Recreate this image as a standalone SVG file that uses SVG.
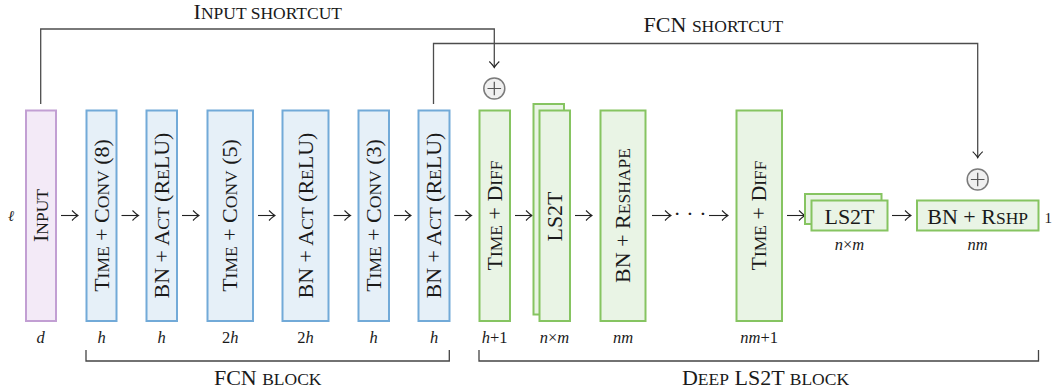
<svg xmlns="http://www.w3.org/2000/svg" width="1053" height="392" viewBox="0 0 1053 392">
<style>
.t{font-family:"Liberation Serif","Times New Roman",serif;font-size:22px;fill:#1a1a1a}
.sc{font-size:17.5px}
.m{font-family:"Liberation Serif","Times New Roman",serif;font-size:16.5px;font-style:italic;fill:#1a1a1a}
.up{font-style:normal}
.inp{fill:#f3eaf7;stroke:#c29fd3;stroke-width:2}
.fcn{fill:#e6f0f8;stroke:#72aad8;stroke-width:2}
.ls{fill:#e9f4e5;stroke:#86c461;stroke-width:2}
.ar{fill:none;stroke:#222;stroke-width:1.1;marker-end:url(#ah)}
.sh{fill:none;stroke:#4d4d4d;stroke-width:1.3}
.br{fill:none;stroke:#444;stroke-width:1.3}
.pl{fill:#f0f0f0;stroke:#7a7a7a;stroke-width:1.5}
</style>
<defs>
<marker id="ah" viewBox="-7 -6 8 12" markerWidth="8" markerHeight="12" refX="0" refY="0" orient="auto" markerUnits="userSpaceOnUse">
<path d="M-6,-5 Q-2,-1 0,0 Q-2,1 -6,5" fill="none" stroke="#222" stroke-width="1.1"/>
</marker>
</defs>

<g id="connectors">
<path class="ar" d="M61,215.5 H78"/>
<path class="ar" d="M121.5,215.5 H138.5"/>
<path class="ar" d="M182,215.5 H199"/>
<path class="ar" d="M258,215.5 H275"/>
<path class="ar" d="M333.5,215.5 H350.5"/>
<path class="ar" d="M394,215.5 H411"/>
<path class="ar" d="M454.5,215.5 H471.5"/>
<path class="ar" d="M515,215.5 H532"/>
<path class="ar" d="M575,215.5 H592"/>
<path class="ar" d="M652,215.5 H671"/>
<path class="ar" d="M709,215.5 H728"/>
<path class="ar" d="M787,215.5 H805"/>
<path class="ar" d="M892,215.5 H911"/>
<path class="sh" d="M40.7,104 V29 H494.3 V67.5" marker-end="url(#ah)"/>
<path class="sh" d="M433.5,104 V43.5 H977.7 V157.7" marker-end="url(#ah)"/>
</g>
<text class="t" x="690" y="221" text-anchor="middle">· · ·</text>

<g id="plus1"><circle class="pl" cx="494.3" cy="88.5" r="10.5"/><path d="M487.5,88.5 H501.1 M494.3,81.7 V95.3" stroke="#555" stroke-width="1.2"/></g>
<g id="plus2"><circle class="pl" cx="977.7" cy="179.5" r="10.5"/><path d="M970.9,179.5 H984.5 M977.7,172.7 V186.3" stroke="#555" stroke-width="1.2"/></g>

<g id="input">
<rect class="inp" x="26" y="110.5" width="30" height="210.5"/>
<text class="t" transform="translate(48,215.5) rotate(-90)" text-anchor="middle">I<tspan class="sc">NPUT</tspan></text>
<text class="m" x="40.7" y="342.5" text-anchor="middle">d</text>
</g>
<g id="conv8">
<rect class="fcn" x="86.5" y="110.5" width="30" height="210.5"/>
<text class="t" transform="translate(108.5,215.5) rotate(-90)" text-anchor="middle">T<tspan class="sc">IME</tspan> + C<tspan class="sc">ONV</tspan> (8)</text>
<text class="m" x="101.5" y="342.5" text-anchor="middle">h</text>
</g>
<g id="bn1">
<rect class="fcn" x="146.5" y="110.5" width="30.5" height="210.5"/>
<text class="t" transform="translate(168.8,215.5) rotate(-90)" text-anchor="middle">BN + A<tspan class="sc">CT</tspan> (R<tspan class="sc">E</tspan>LU)</text>
<text class="m" x="161.7" y="342.5" text-anchor="middle">h</text>
</g>
<g id="conv5">
<rect class="fcn" x="207.5" y="110.5" width="45.5" height="210.5"/>
<text class="t" transform="translate(237.3,215.5) rotate(-90)" text-anchor="middle">T<tspan class="sc">IME</tspan> + C<tspan class="sc">ONV</tspan> (5)</text>
<text class="m" x="230.2" y="342.5" text-anchor="middle"><tspan class="up">2</tspan>h</text>
</g>
<g id="bn2">
<rect class="fcn" x="282.5" y="110.5" width="46" height="210.5"/>
<text class="t" transform="translate(312.5,215.5) rotate(-90)" text-anchor="middle">BN + A<tspan class="sc">CT</tspan> (R<tspan class="sc">E</tspan>LU)</text>
<text class="m" x="305.5" y="342.5" text-anchor="middle"><tspan class="up">2</tspan>h</text>
</g>
<g id="conv3">
<rect class="fcn" x="358.5" y="110.5" width="30.5" height="210.5"/>
<text class="t" transform="translate(380.8,215.5) rotate(-90)" text-anchor="middle">T<tspan class="sc">IME</tspan> + C<tspan class="sc">ONV</tspan> (3)</text>
<text class="m" x="373.7" y="342.5" text-anchor="middle">h</text>
</g>
<g id="bn3">
<rect class="fcn" x="418.5" y="110.5" width="31" height="210.5"/>
<text class="t" transform="translate(441,215.5) rotate(-90)" text-anchor="middle">BN + A<tspan class="sc">CT</tspan> (R<tspan class="sc">E</tspan>LU)</text>
<text class="m" x="434" y="342.5" text-anchor="middle">h</text>
</g>
<g id="diff1">
<rect class="ls" x="479.5" y="110.5" width="30.5" height="210.5"/>
<text class="t" transform="translate(501.8,215.5) rotate(-90)" text-anchor="middle">T<tspan class="sc">IME</tspan> + D<tspan class="sc">IFF</tspan></text>
<text class="m" x="494.7" y="342.5" text-anchor="middle">h<tspan class="up">+1</tspan></text>
</g>
<g id="ls2t1">
<rect class="ls" x="533.5" y="104" width="30.5" height="210.5"/>
<rect class="ls" x="539.5" y="110.5" width="30.5" height="210.5"/>
<text class="t" transform="translate(561.8,216.5) rotate(-90)" text-anchor="middle">LS2T</text>
<text class="m" x="554.5" y="342.5" text-anchor="middle">n<tspan class="up">×</tspan>m</text>
</g>
<g id="reshape">
<rect class="ls" x="600.5" y="110.5" width="45" height="210.5"/>
<text class="t" transform="translate(630,215.5) rotate(-90)" text-anchor="middle">BN + R<tspan class="sc">ESHAPE</tspan></text>
<text class="m" x="623" y="342.5" text-anchor="middle">nm</text>
</g>
<g id="diff2">
<rect class="ls" x="736.5" y="110.5" width="45.5" height="210.5"/>
<text class="t" transform="translate(766.3,215.5) rotate(-90)" text-anchor="middle">T<tspan class="sc">IME</tspan> + D<tspan class="sc">IFF</tspan></text>
<text class="m" x="759.2" y="342.5" text-anchor="middle">nm<tspan class="up">+1</tspan></text>
</g>
<g id="ls2t2">
<rect class="ls" x="805" y="194" width="76.5" height="30"/>
<rect class="ls" x="811.5" y="200.5" width="76" height="30"/>
<text class="t" x="849.5" y="223.5" text-anchor="middle">LS2T</text>
<text class="m" x="849.5" y="250" text-anchor="middle">n<tspan class="up">×</tspan>m</text>
</g>
<g id="bnrshp">
<rect class="ls" x="917" y="200.5" width="121.5" height="30"/>
<text class="t" x="977.7" y="223.5" text-anchor="middle">BN + R<tspan class="sc">SHP</tspan></text>
<text class="m" x="977.7" y="250" text-anchor="middle">nm</text>
</g>

<g id="labels">
<text class="m" x="11" y="220.5" text-anchor="middle" style="font-family:'DejaVu Serif',serif;font-size:15px">ℓ</text>
<text class="m" x="1044.5" y="223" style="font-style:normal;font-size:15px">1</text>
<text class="t" x="267.8" y="18.5" text-anchor="middle">I<tspan class="sc">NPUT SHORTCUT</tspan></text>
<text class="t" x="713.4" y="31.7" text-anchor="middle">FCN <tspan class="sc">SHORTCUT</tspan></text>
</g>

<g id="fcn-block">
<path class="br" d="M86,350 V361 H449.3 V350"/>
<text class="t" x="267.7" y="385" text-anchor="middle">FCN <tspan class="sc">BLOCK</tspan></text>
</g>
<g id="ls2t-block">
<path class="br" d="M479,350 V361 H1038.5 V350"/>
<text class="t" x="765.5" y="385" text-anchor="middle">D<tspan class="sc">EEP</tspan> LS2T <tspan class="sc">BLOCK</tspan></text>
</g>
</svg>
